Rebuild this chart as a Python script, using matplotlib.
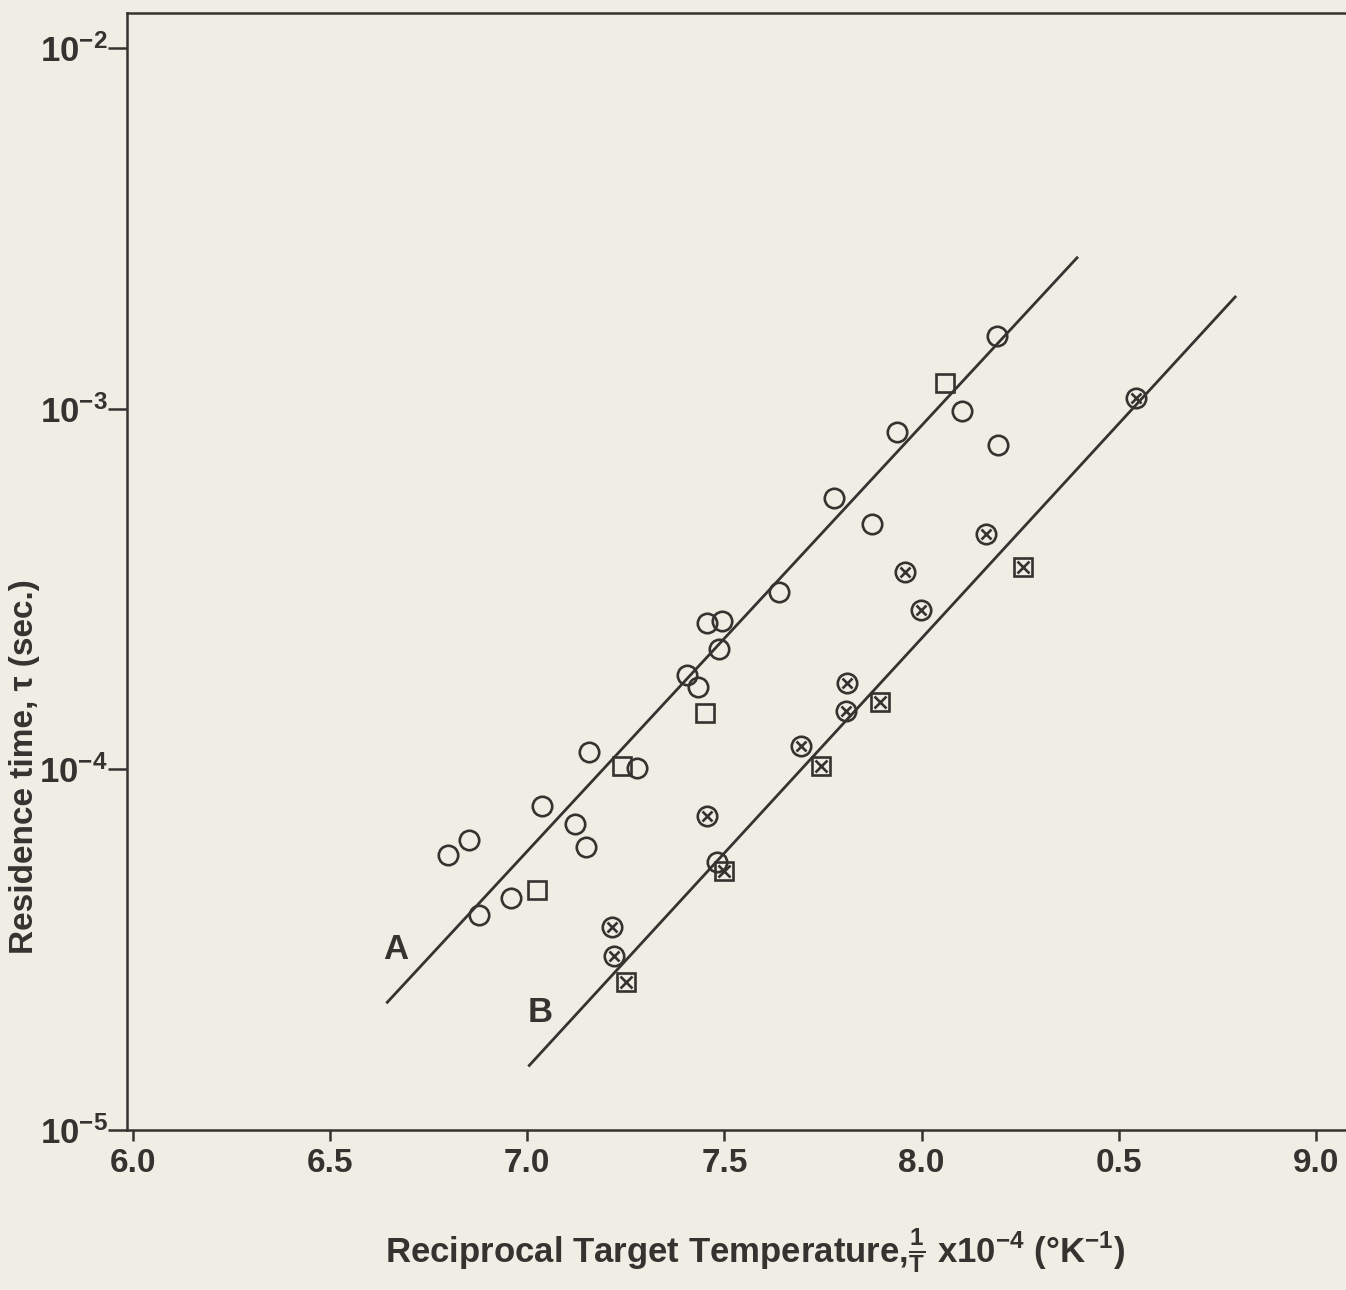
import matplotlib
matplotlib.use("Agg")
import matplotlib.pyplot as plt
import numpy as np

# reciprocal temperature (x10^-4 K^-1) and residence time (sec)
circ_x = [6.799, 6.852, 6.878, 6.959, 7.038, 7.121, 7.149, 7.157, 7.278, 7.405, 7.433,
          7.456, 7.494, 7.486, 7.638, 7.778, 7.874, 7.938, 8.102, 8.194, 8.191, 7.481]
circ_tau = [5.78e-5, 6.35e-5, 3.94e-5, 4.40e-5, 7.91e-5, 7.05e-5, 6.08e-5, 1.12e-4, 1.01e-4,
            1.83e-4, 1.69e-4, 2.55e-4, 2.57e-4, 2.16e-4, 3.11e-4, 5.66e-4, 4.80e-4, 8.59e-4,
            9.82e-4, 7.94e-4, 1.59e-3, 5.52e-5]

sq_x = [7.025, 7.240, 7.451, 8.059]
sq_tau = [4.62e-5, 1.02e-4, 1.43e-4, 1.18e-3]

xcirc_x = [7.215, 7.220, 7.456, 7.694, 7.808, 7.811, 7.958, 7.998, 8.163, 8.544]
xcirc_tau = [3.65e-5, 3.03e-5, 7.41e-5, 1.16e-4, 1.45e-4, 1.74e-4, 3.53e-4, 2.77e-4,
             4.48e-4, 1.07e-3]

xsq_x = [7.251, 7.499, 7.745, 7.895, 8.257]
xsq_tau = [2.57e-5, 5.21e-5, 1.02e-4, 1.54e-4, 3.63e-4]

# fitted lines A and B (end points)
line_a_x = [6.645, 8.394]
line_a_tau = [2.26e-5, 2.62e-3]
line_b_x = [7.005, 8.795]
line_b_tau = [1.51e-5, 2.04e-3]

xticks = [6.0, 6.5, 7.0, 7.5, 8.0, 8.5, 9.0]
xtick_labels = ["6.0", "6.5", "7.0", "7.5", "8.0", "0.5", "9.0"]
yticks = [1e-5, 1e-4, 1e-3, 1e-2]
ytick_labels = [r"$10^{-5}$", r"$10^{-4}$", r"$10^{-3}$", r"$10^{-2}$"]

ink = "#353330"
paper = "#f0ede4"

plt.rcParams["font.family"] = ["Liberation Sans", "DejaVu Sans"]
plt.rcParams["font.weight"] = "bold"
plt.rcParams["axes.labelweight"] = "bold"
plt.rcParams["mathtext.default"] = "regular"

fig = plt.figure(figsize=(13.46, 12.9), dpi=100, facecolor=paper)
ax = fig.add_axes([127 / 1346, 160 / 1290, 1219 / 1346, 1117 / 1290])
ax.set_facecolor(paper)
ax.set_yscale("log")
ax.set_xlim(5.985, 9.076)
ax.set_ylim(1e-5, 1.25e-2)

ax.plot(line_a_x, line_a_tau, color=ink, lw=2.0)
ax.plot(line_b_x, line_b_tau, color=ink, lw=2.0)

mk = dict(linestyle="none", markerfacecolor="none", markeredgecolor=ink, markeredgewidth=1.9)
ax.plot(circ_x, circ_tau, marker="o", markersize=14, **mk)
ax.plot(sq_x, sq_tau, marker="s", markersize=13, **mk)
ax.plot(xcirc_x, xcirc_tau, marker="o", markersize=14, **mk)
ax.plot(xcirc_x, xcirc_tau, marker="x", markersize=7, **mk)
ax.plot(xsq_x, xsq_tau, marker="s", markersize=13, **mk)
ax.plot(xsq_x, xsq_tau, marker="x", markersize=9, **mk)

ax.text(6.667, 3.17e-5, "A", fontsize=25, color=ink, ha="center", va="center")
ax.text(7.033, 2.12e-5, "B", fontsize=25, color=ink, ha="center", va="center")

ax.set_xticks(xticks)
ax.set_xticklabels(xtick_labels)
ax.set_yticks(yticks)
ax.set_yticklabels(ytick_labels)
ax.minorticks_off()
ax.tick_params(axis="x", direction="out", length=8, width=1.8, color=ink,
               labelsize=24, labelcolor=ink, pad=5)
ax.tick_params(axis="y", direction="out", length=14, width=1.8, color=ink,
               labelsize=25, labelcolor=ink, pad=0)

for side in ["left", "top", "bottom"]:
    ax.spines[side].set_linewidth(1.8)
    ax.spines[side].set_color(ink)
ax.spines["right"].set_visible(False)

ax.set_xlabel(r"Reciprocal Target Temperature,$\frac{1}{T}$ x10$^{-4}$ (°K$^{-1}$)",
              fontsize=25, color=ink)
ax.xaxis.set_label_coords(0.515, -0.086)
ax.set_ylabel("Residence time, τ (sec.)", fontsize=24, color=ink)
ax.yaxis.set_label_coords(-0.071, 0.325)

fig.savefig("out.png", dpi=100, facecolor=paper)
